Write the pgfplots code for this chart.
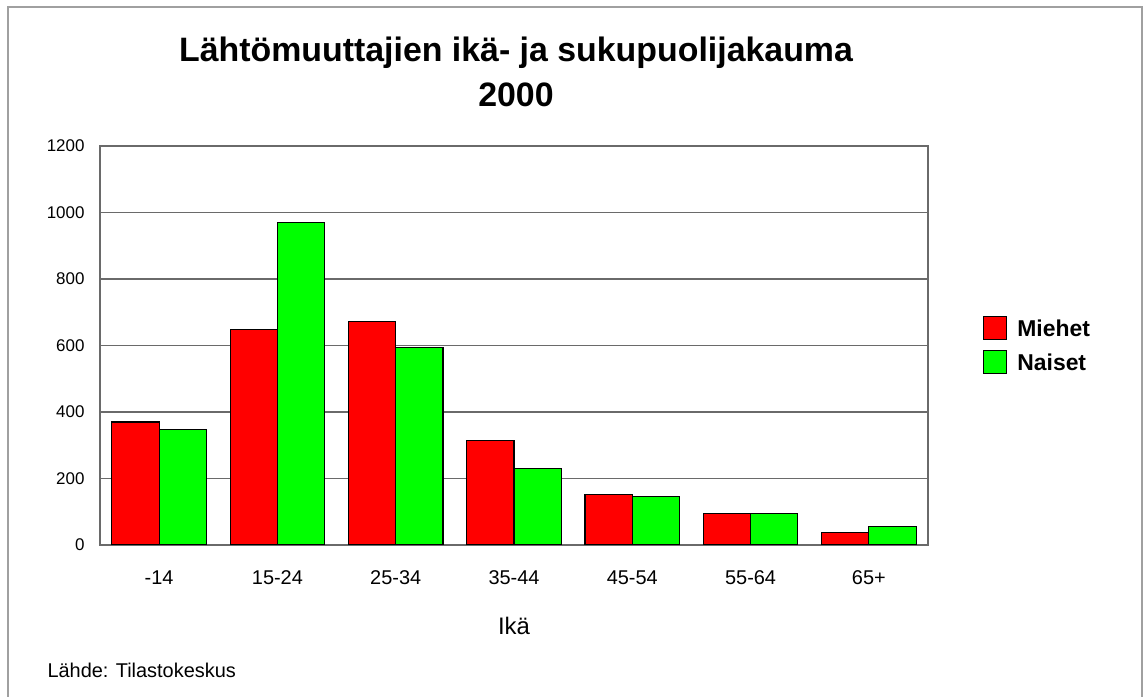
\documentclass[border=0pt]{standalone}
\usepackage{pgfplots}
\pgfplotsset{compat=1.18}
\usepackage{fontspec}
\setmainfont{Liberation Sans}
\definecolor{gridgray}{HTML}{6A6A6A}
\definecolor{framegray}{HTML}{A0A0A0}
\definecolor{barred}{HTML}{FF0000}
\definecolor{bargreen}{HTML}{00FF00}
\begin{document}
\begin{tikzpicture}[x=1bp,y=1bp]
\fill[white] (0,0) rectangle (1147,697);
\draw[framegray, line width=2.5bp] (8,0) -- (8,690) -- (1142,690) -- (1142,0);
\node[font=\bfseries\fontsize{34}{45}\selectfont, align=center, anchor=center] at (516,625) {Lähtömuuttajien ikä- ja sukupuolijakauma\\2000};
\node[font=\fontsize{20}{20}\selectfont, anchor=west] at (44,27) {Lähde: Tilastokeskus};
\begin{axis}[
  at={(100bp,152bp)}, anchor=south west,
  scale only axis, width=828bp, height=399bp,
  xmin=-0.5, xmax=6.5, ymin=0, ymax=1200,
  ytick={0,200,...,1200},
  xtick={0,...,6},
  xticklabels={-14,15-24,25-34,35-44,45-54,55-64,65+},
  major tick length=0pt,
  ymajorgrids,
  grid style={gridgray, line width=1.6bp},
  axis line style={gridgray, line width=1.6bp},
  /pgf/number format/assume math mode=true,
  /pgf/number format/1000 sep={},
  yticklabel style={font=\fontsize{17}{17}\selectfont, xshift=-12bp},
  xticklabel style={font=\fontsize{20}{20}\selectfont, yshift=-22bp},
  xlabel={Ikä},
  xlabel style={font=\fontsize{24}{24}\selectfont, yshift=-26bp},
  ybar, bar width=0.4,
  legend style={at={(1.063,0.5)}, anchor=west, draw=none, fill=none,
    font=\bfseries\fontsize{23}{23}\selectfont, row sep=10bp,
    /tikz/every even column/.append style={column sep=4bp}},
  legend image code/.code={\draw[#1, line width=1bp] (0bp,-11bp) rectangle (23bp,12bp);},
  legend cell align=left,
]
\addplot[fill=barred, draw=black, line width=1.2bp, bar shift=-0.2] coordinates {
(0,370) (1,649) (2,673) (3,315) (4,152) (5,95) (6,38)};
\addplot[fill=bargreen, draw=black, line width=1.2bp, bar shift=0.2] coordinates {
(0,348) (1,971) (2,593) (3,230) (4,147) (5,95) (6,56)};
\addlegendentry{\hspace{8bp}Miehet}
\addlegendentry{\hspace{8bp}Naiset}
\end{axis}
\end{tikzpicture}
\end{document}
